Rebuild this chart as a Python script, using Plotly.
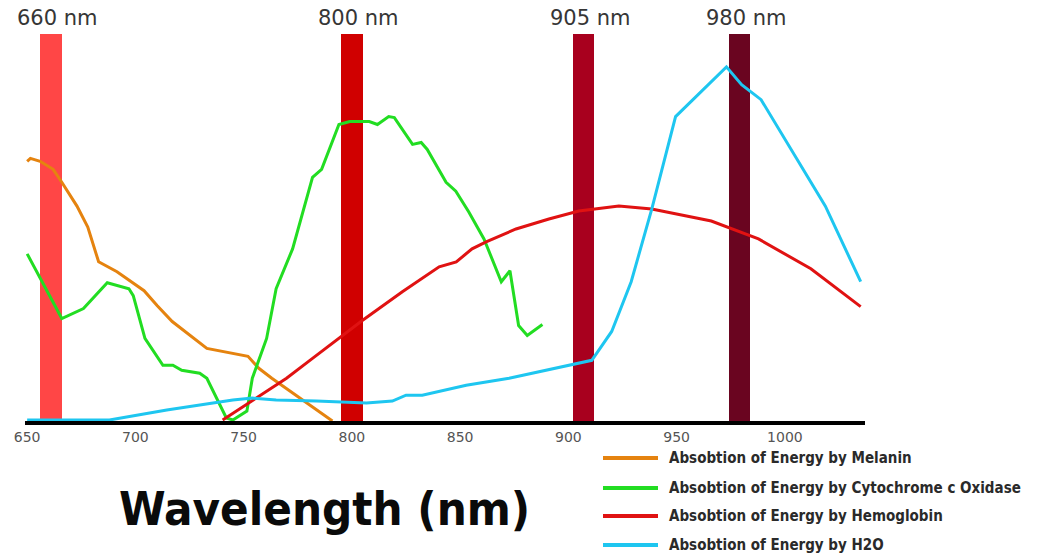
import plotly.graph_objects as go

# ---- data (wavelength nm, relative absorption units) ----
melanin_x = [650, 651.5, 656, 662, 666, 673, 678, 683, 691.5, 704, 710, 717, 733, 752, 757, 763, 791]
melanin_y = [261, 264, 261, 253, 240, 216, 195, 160, 150, 131, 116, 100, 73, 65, 53, 43, 0]

cyto_x = [650, 666, 676, 687, 697, 699, 704.4, 712.7, 717.3, 721.4, 729.7, 733, 742, 745, 751.5, 754,
          760.6, 765, 772.6, 781.8, 786, 794, 799, 808, 811.8, 817, 819.6, 828, 832, 834.8, 843.5,
          848, 854, 861, 869, 873, 877, 881, 888]
cyto_y = [168, 103, 113, 139, 133, 126, 83, 56, 56, 51, 48, 43, 3, 1, 10, 43,
          83, 133, 173, 245, 253, 298, 301, 301, 298, 306, 305, 278, 280, 273, 240,
          231, 210, 183, 140, 151, 96, 86, 97]

hemo_x = [740.3, 769.8, 781.8, 791, 804.8, 823.3, 840.3, 848.2, 855.5, 862, 875.8, 891, 904.8,
          923.3, 938.5, 966, 978.6, 987.8, 1012, 1035]
hemo_y = [1, 43, 63, 78, 101, 130, 155, 160, 173, 180, 193, 203, 211,
          216, 213, 201, 191, 183, 153, 115]

h2o_x = [650, 688, 714.5, 745, 754, 765, 783.6, 806.7, 818.7, 825, 832.5, 852.8, 872.6, 904.8,
         910.8, 920, 929, 938.5, 949.5, 973, 980, 989, 1018.7, 1035]
h2o_y = [1, 1, 11, 21, 23, 21, 20, 18, 20, 26, 26, 36, 43, 58,
         61, 90, 140, 213, 306, 356, 338, 323, 216, 140]

series_names = [
    "Absobtion of Energy by Melanin",
    "Absobtion of Energy by Cytochrome c Oxidase",
    "Absobtion of Energy by Hemoglobin",
    "Absobtion of Energy by H2O",
]
series_colors = ["#E5830F", "#22DD22", "#E01212", "#1EC6F0"]

laser_centers = [661, 800, 907, 979]
laser_labels = ["660 nm", "800 nm", "905 nm", "980 nm"]
laser_colors = ["#FF4646", "#D00000", "#A8001E", "#6A0520"]

tick_vals = [650, 700, 750, 800, 850, 900, 950, 1000]

Y_TOP = 389
X_RANGE = [649, 1037]

W, H = 1037, 554
ML, MR, MT, MB = 25, 172, 34, 133
PW, PH = W - ML - MR, H - MT - MB


def px(xp):
    return (xp - ML) / PW


def py(yp):
    return (H - MB - yp) / PH


fig = go.Figure()

# laser wavelength bands
fig.add_trace(go.Bar(
    x=laser_centers, y=[Y_TOP] * len(laser_centers), width=10,
    marker=dict(color=laser_colors, line=dict(width=0)),
    showlegend=False, hoverinfo="x",
))

xs = [melanin_x, cyto_x, hemo_x, h2o_x]
ys = [melanin_y, cyto_y, hemo_y, h2o_y]
for name, color, x, y in zip(series_names, series_colors, xs, ys):
    fig.add_trace(go.Scatter(
        x=x, y=y, mode="lines", name=name,
        line=dict(color=color, width=3), showlegend=False,
    ))

# labels above bands
for cx, lab in zip(laser_centers, laser_labels):
    fig.add_annotation(
        x=cx, y=Y_TOP, xref="x", yref="y", text=lab, showarrow=False,
        yanchor="bottom", xanchor="center", xshift=7, yshift=2,
        font=dict(family="DejaVu Sans", size=21, color="#363636"),
    )

# manual legend
leg_y = [458, 488, 516, 545]
for name, color, ly in zip(series_names, series_colors, leg_y):
    fig.add_shape(type="line", xref="paper", yref="paper",
                  x0=px(603), x1=px(658), y0=py(ly), y1=py(ly),
                  line=dict(color=color, width=4))
    fig.add_annotation(
        xref="paper", yref="paper", x=px(667), y=py(ly),
        text="<b>" + name + "</b>",
        showarrow=False, xanchor="left", yanchor="middle",
        font=dict(family="DejaVu Sans Condensed", size=15, color="#2a2a2a"),
    )

# big axis title
fig.add_annotation(
    xref="paper", yref="paper", x=px(324), y=py(508),
    text="<b>Wavelength (nm)</b>",
    showarrow=False, xanchor="center", yanchor="middle",
    font=dict(family="DejaVu Sans Condensed", size=47, color="#0a0a0a"),
)

fig.update_layout(
    width=W, height=H,
    margin=dict(l=ML, r=MR, t=MT, b=MB),
    paper_bgcolor="white", plot_bgcolor="white",
    bargap=0,
    xaxis=dict(range=X_RANGE, tickvals=tick_vals, showgrid=False, zeroline=False,
               showline=True, linewidth=4, linecolor="black", ticks="",
               tickfont=dict(family="DejaVu Sans", size=14, color="#555555")),
    yaxis=dict(range=[0, Y_TOP], visible=False, showgrid=False, zeroline=False),
)

fig.write_html("out.html", config={"displayModeBar": False},
               post_script="document.body.style.margin='0px';")
